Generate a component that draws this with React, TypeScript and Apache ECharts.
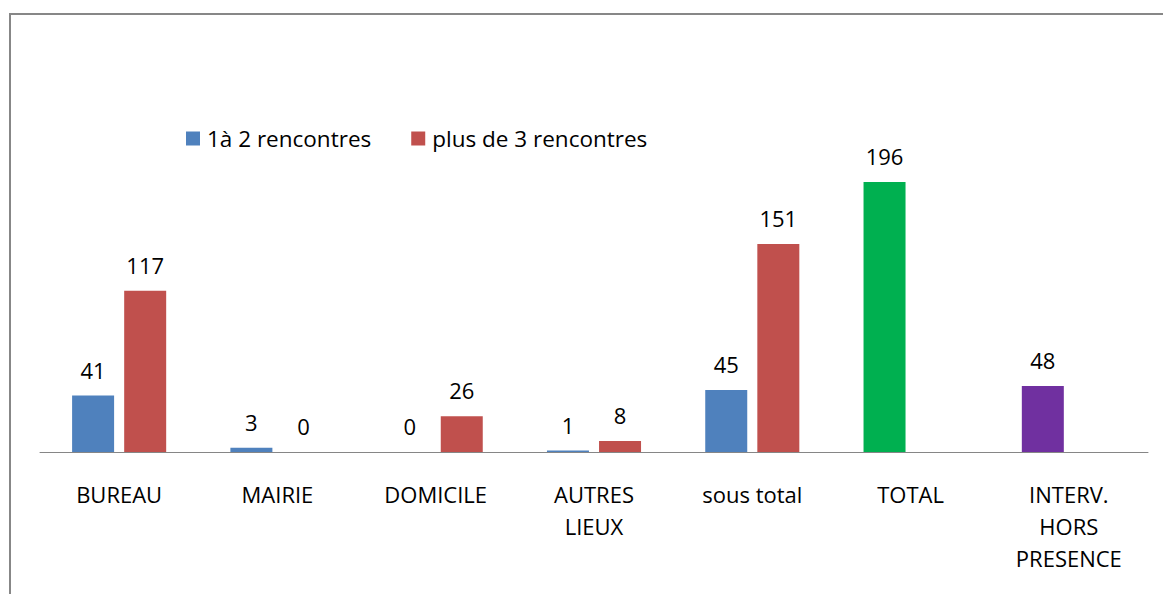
import React, { useEffect, useRef } from "react";
import * as echarts from "echarts";

const categories = ["BUREAU", "MAIRIE", "DOMICILE", "AUTRES\nLIEUX", "sous total", "TOTAL", "INTERV.\nHORS\nPRESENCE"];
const seriesNames = ["1à 2 rencontres", "plus de 3 rencontres"];
const values1 = [41, 3, 0, 1, 45, 196, 48];
const values2: (number | null)[] = [117, 0, 26, 8, 151, null, null];
const pointColors1 = ["#4F81BD", "#4F81BD", "#4F81BD", "#4F81BD", "#4F81BD", "#00B050", "#7030A0"];
const color1 = "#4F81BD";
const color2 = "#C0504D";

const FONT = "'Open Sans', sans-serif";

export default function App() {
  const ref = useRef<HTMLDivElement>(null);
  useEffect(() => {
    if (!ref.current) return;
    const chart = echarts.init(ref.current, null, { renderer: "svg" });
    const labelStyle = {
      show: true,
      position: "top" as const,
      distance: 15,
      color: "#000",
      fontFamily: FONT,
      fontSize: 22,
    };
    chart.setOption({
      animation: false,
      backgroundColor: "#fff",
      grid: { left: 40, right: 15, top: 107.6, bottom: 142 },
      legend: {
        left: 181,
        top: 122,
        itemWidth: 14,
        itemHeight: 14,
        itemGap: 40,
        icon: "rect",
        textStyle: { fontFamily: FONT, fontSize: 22.5, color: "#000", padding: [0, 0, 0, 2] },
        data: seriesNames,
      },
      xAxis: {
        type: "category",
        data: categories,
        axisLine: { show: true, lineStyle: { color: "#868686", width: 1 } },
        axisTick: { show: false },
        axisLabel: {
          color: "#000",
          fontFamily: FONT,
          fontSize: 22,
          lineHeight: 32,
          margin: 26,
          interval: 0,
        },
      },
      yAxis: {
        type: "value",
        min: 0,
        max: 250,
        show: false,
        splitLine: { show: false },
      },
      series: [
        {
          name: seriesNames[0],
          type: "bar",
          barWidth: 42,
          barGap: "24%",
          itemStyle: { color: color1 },
          label: labelStyle,
          data: values1.map((v, i) => ({ value: v, itemStyle: { color: pointColors1[i] } })),
        },
        {
          name: seriesNames[1],
          type: "bar",
          barWidth: 42,
          barGap: "24%",
          itemStyle: { color: color2 },
          label: labelStyle,
          data: values2,
        },
      ],
      graphic: [
        { type: "line", shape: { x1: 9, y1: 14, x2: 1163, y2: 14 }, style: { stroke: "#878787", lineWidth: 2 } },
        { type: "line", shape: { x1: 10, y1: 13, x2: 10, y2: 594 }, style: { stroke: "#878787", lineWidth: 2 } },
      ],
    });
    return () => chart.dispose();
  }, []);
  return (
    <div
      ref={ref}
      style={{ position: "fixed", left: 0, top: 0, width: 1163, height: 594 }}
    />
  );
}
